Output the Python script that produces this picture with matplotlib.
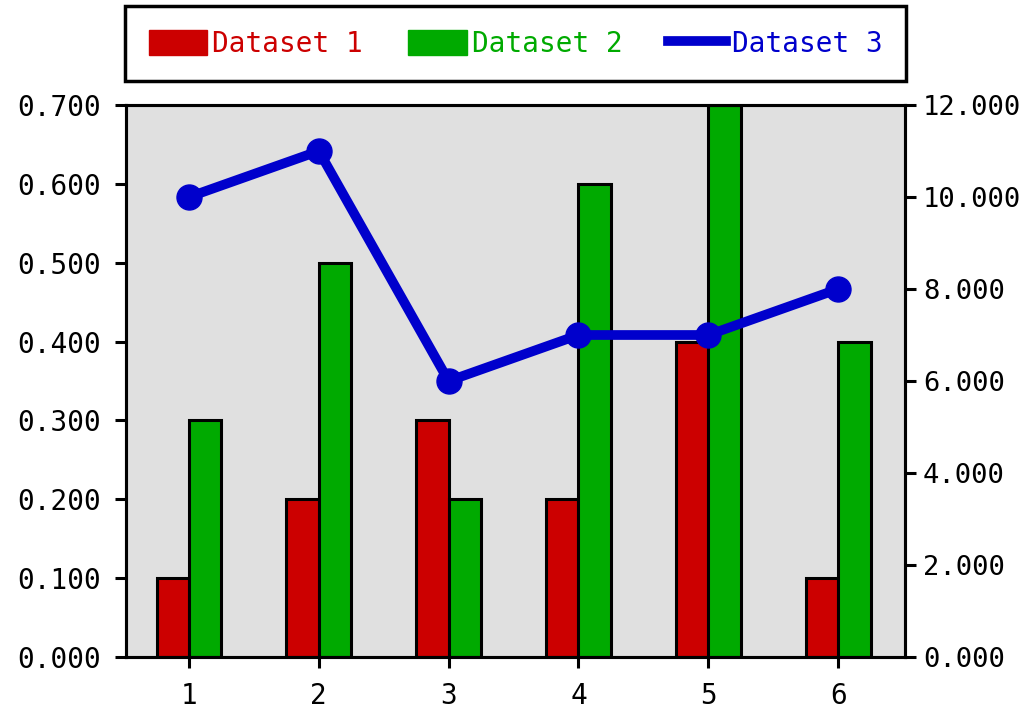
import numpy as np
import matplotlib
matplotlib.use('Agg')
import matplotlib.pyplot as plt
from matplotlib.patches import Patch
from matplotlib.lines import Line2D

# data
categories = [1, 2, 3, 4, 5, 6]
dataset1 = [0.1, 0.2, 0.3, 0.2, 0.4, 0.1]
dataset2 = [0.3, 0.5, 0.2, 0.6, 0.7, 0.4]
dataset3 = [10, 11, 6, 7, 7, 8]
left_ticks = [0.0, 0.1, 0.2, 0.3, 0.4, 0.5, 0.6, 0.7]
right_ticks = [0, 2, 4, 6, 8, 10, 12]

red = '#cc0000'
green = '#00aa00'
blue = '#0000cc'

plt.rcParams['font.family'] = ['DejaVu Sans Mono']
plt.rcParams['font.size'] = 20

fig = plt.figure(figsize=(10.28, 7.08), dpi=100)
ax1 = fig.add_axes([126 / 1028, 51 / 708, 779 / 1028, 552 / 708])
ax1.set_facecolor('#e0e0e0')

x = np.array(categories, dtype=float)
w = 0.25
ax1.bar(x - w / 2, dataset1, width=w, color=red, edgecolor='black', linewidth=2.2)
ax1.bar(x + w / 2, dataset2, width=w, color=green, edgecolor='black', linewidth=2.2)
ax1.set_xlim(0.515, 6.515)
ax1.set_ylim(0, 0.7)
ax1.set_xticks(categories)
ax1.set_yticks(left_ticks)
ax1.set_yticklabels(['%.3f' % v for v in left_ticks])

ax2 = ax1.twinx()
ax2.plot(x, dataset3, color=blue, linewidth=7, marker='o', markersize=18,
         solid_joinstyle='round')
ax2.set_ylim(0, 12)
ax2.set_yticks(right_ticks)
ax2.set_yticklabels(['%.3f' % v for v in right_ticks])

for ax in (ax1, ax2):
    for s in ax.spines.values():
        s.set_linewidth(2.2)
    ax.tick_params(length=8, width=2.2, pad=10, labelsize=20)
ax2.tick_params(axis='y', pad=5, labelsize=19.5)

handles = [Patch(facecolor=red, edgecolor=red),
           Patch(facecolor=green, edgecolor=green),
           Line2D([0], [0], color=blue, linewidth=7)]
leg = fig.legend(handles, ['Dataset 1', 'Dataset 2', 'Dataset 3'],
                 loc='upper left', ncol=3, mode='expand',
                 bbox_to_anchor=(125 / 1028, 1 - 6 / 708, 781 / 1028, 0),
                 borderaxespad=0,
                 fancybox=False, edgecolor='black', framealpha=1,
                 handlelength=2.1, handleheight=1.0, handletextpad=0.2,
                 columnspacing=1.1, borderpad=0.85, fontsize=20)
leg.get_frame().set_linewidth(2.5)
for t, c in zip(leg.get_texts(), [red, green, blue]):
    t.set_color(c)

fig.savefig('out.png', dpi=100)
